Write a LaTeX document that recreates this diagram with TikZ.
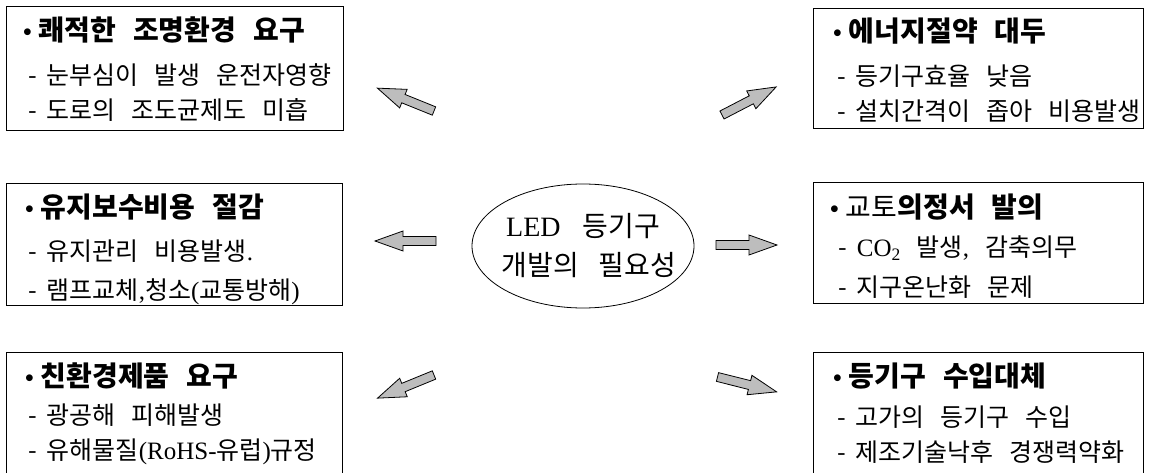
\documentclass[tikz,border=0pt]{standalone}
\usepackage{fontspec}
\setmainfont{Liberation Serif}
\newfontfamily\kr{Noto Sans CJK KR}
\usetikzlibrary{shapes.geometric}

\tikzset{
  x=1pt, y=-1pt,
  box/.style={draw=black, line width=1pt, inner sep=0pt, anchor=north west},
  head/.style={anchor=base west, inner sep=0pt,
    font=\kr\fontsize{28}{28}\selectfont\bfseries},
  item/.style={anchor=base west, inner sep=0pt,
    font=\kr\fontsize{25}{25}\selectfont},
  core/.style={anchor=base, inner sep=0pt,
    font=\kr\fontsize{28}{28}\selectfont},
  blk/.style={fill=black!26, draw=black, line width=0.8pt, line join=miter},
  blockarrow/.pic={
    \path[blk] (0,-4.5) -- (33,-4.5) -- (33,-10) -- (61,0) -- (33,10)
      -- (33,4.5) -- (0,4.5) -- cycle;
  },
}
% word gaps: \igap in the item lines, \hgap in the headings
\newcommand\igap{\hspace{16pt}}
\newcommand\hgap{\hspace{17pt}}
\newcommand\ldash{-\hspace{10pt}}
\newcommand\bul{{\rmfamily\fontsize{25}{25}\selectfont •}\hspace{7pt}}
\newcommand\lat[1]{{\rmfamily\fontsize{25}{25}\selectfont #1}}

\begin{document}
\begin{tikzpicture}
\useasboundingbox (0,0) rectangle (1149,473);
\clip (0,0) rectangle (1149,473);

% frames
\node[box, minimum width=337pt, minimum height=124pt] (tl) at (6,6) {};
\node[box, minimum width=330pt, minimum height=120pt] (tr) at (813,8) {};
\node[box, minimum width=336pt, minimum height=122pt] (ml) at (6,183) {};
\node[box, minimum width=330pt, minimum height=121pt] (mr) at (813,182) {};
\node[box, minimum width=336pt, minimum height=135pt] (bl) at (6,352) {};
\node[box, minimum width=330pt, minimum height=135pt] (br) at (813,352) {};

% upper left
\node[head] (tlh) at (23,41) {\bul 쾌적한\hgap 조명환경\hgap 요구};
\node[item] (tl1) at (28,85) {\ldash 눈부심이\igap 발생\igap 운전자영향};
\node[item] (tl2) at (28,120) {\ldash 도로의\igap 조도균제도\igap 미흡};

% upper right
\node[head] (trh) at (833,42) {\bul 에너지절약\hgap 대두};
\node[item] (tr1) at (837,86) {\ldash 등기구효율\igap 낮음};
\node[item] (tr2) at (837,121) {\ldash 설치간격이\igap 좁아\igap 비용발생};

% middle left
\node[head] (mlh) at (25,218) {\bul 유지보수비용\hgap 절감};
\node[item] (ml1) at (28,261) {\ldash 유지관리\igap 비용발생\lat{.}};
\node[item] (ml2) at (28,299) {\ldash 램프교체\lat{,}청소\lat{(}교통방해\lat{)}};

% middle right
\node[head] (mrh) at (830,218) {\bul {\mdseries 교토}의정서\hgap 발의};
\node[item] (mr1) at (838,257) {\ldash \lat{CO\textsubscript{2}}\igap 발생\lat{,}\igap 감축의무};
\node[item] (mr2) at (838,297) {\ldash 지구온난화\igap 문제};

% lower left
\node[head] (blh) at (25,386) {\bul 친환경제품\hgap 요구};
\node[item] (bl1) at (28,424) {\ldash 광공해\igap 피해발생};
\node[item] (bl2) at (28,459) {\ldash 유해물질\lat{(RoHS-}유럽\lat{)}규정};

% lower right
\node[head] (brh) at (833,386) {\bul 등기구\hgap 수입대체};
\node[item] (br1) at (837,426) {\ldash 고가의\igap 등기구\igap 수입};
\node[item] (br2) at (837,461) {\ldash 제조기술낙후\igap 경쟁력약화};

% centre
\node[draw, ellipse, line width=0.8pt, minimum width=222pt,
  minimum height=124pt, inner sep=0pt] (hub) at (583,246) {};
\node[core] (hub1) at (583,237) {{\rmfamily\fontsize{28}{28}\selectfont LED}\hspace{22pt}등기구};
\node[core] (hub2) at (589,276) {개발의\hspace{20pt}필요성};

% block arrows pointing outwards
\pic[rotate=158] at (434,111) {blockarrow};
\pic[rotate=27.4] at (722,115) {blockarrow};
\pic[rotate=180] at (436,241) {blockarrow};
\pic[rotate=0] at (716,245) {blockarrow};
\pic[rotate=202.3] at (434,375) {blockarrow};
\pic[rotate=-14.1] at (717.5,377) {blockarrow};
\end{tikzpicture}
\end{document}
